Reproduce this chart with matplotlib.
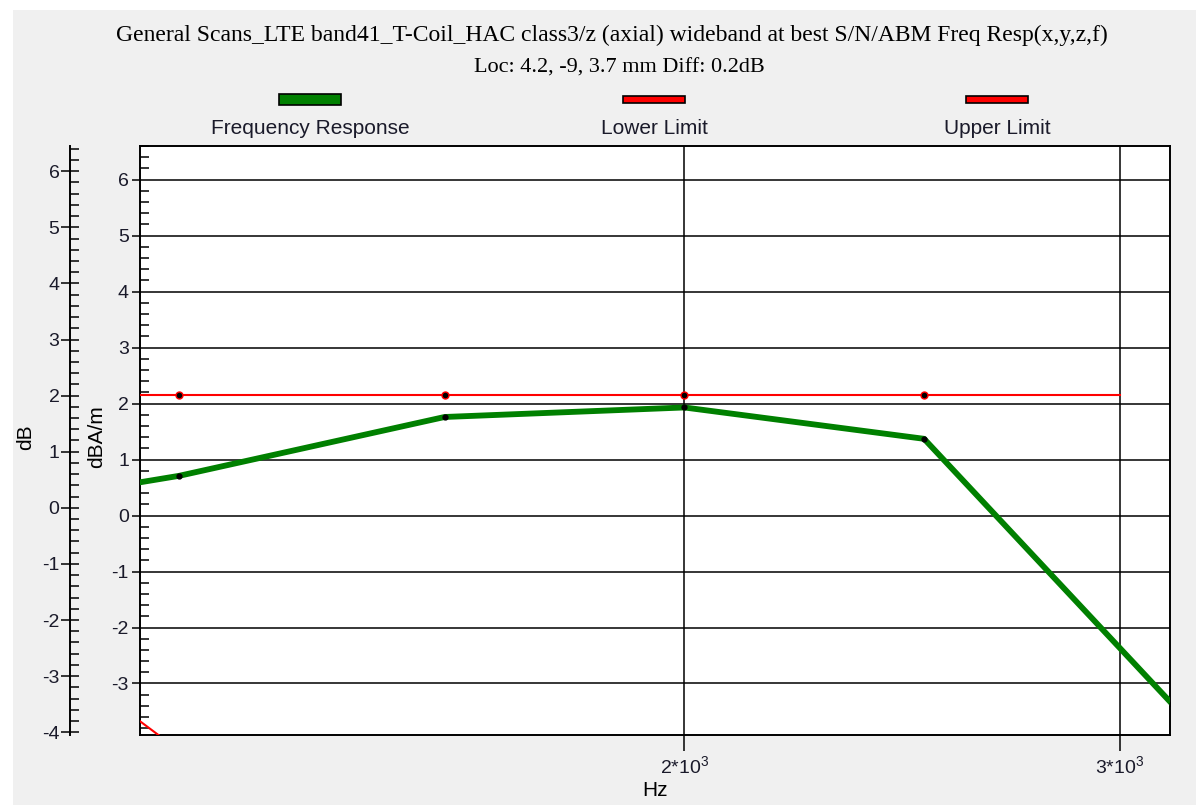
import matplotlib
matplotlib.use("Agg")
import matplotlib.pyplot as plt
from matplotlib.patches import Rectangle
from matplotlib.ticker import MultipleLocator, FixedLocator, NullLocator, FixedFormatter

plt.rcParams['font.family'] = ['Liberation Sans', 'DejaVu Sans']
plt.rcParams['mathtext.default'] = 'regular'
plt.rcParams['axes.unicode_minus'] = False

# data (dB relative to 1 kHz)
freq = [1000, 1250, 1600, 2000, 2500, 3150]
resp = [0.0, 0.71, 1.76, 1.93, 1.37, -3.37]

upper_freq = [1000, 1250, 1600, 2000, 2500, 3000]
upper_db = [2.15, 2.15, 2.15, 2.15, 2.15, 2.15]

lower_freq = [1000, 1250, 1600, 2000, 2500, 3000]
lower_db = [-1.0, -4.2, -4.2, -4.2, -4.2, -4.2]

series_names = ["Frequency Response", "Lower Limit", "Upper Limit"]
series_colors = ["#008000", "#ff0000", "#ff0000"]

xticks = [2000, 3000]
xticklabels = ["2*10$^3$", "3*10$^3$"]

title1 = "General Scans_LTE band41_T-Coil_HAC class3/z (axial) wideband at best S/N/ABM Freq Resp(x,y,z,f)"
title2 = "Loc: 4.2, -9, 3.7 mm Diff: 0.2dB"

W, H = 1196, 805
fig = plt.figure(figsize=(W / 100, H / 100), dpi=100)
fig.patch.set_facecolor("white")
fig.add_artist(Rectangle((13 / W, 0), 1 - 13 / W, 1 - 10 / H, transform=fig.transFigure,
                         facecolor="#f0f0f0", edgecolor="none", zorder=-10))

rect = [140 / W, 70 / H, 1030 / W, 589 / H]
ax = fig.add_axes(rect)
ax.set_facecolor("white")

# main plot (dBA/m)
ax.plot(upper_freq, upper_db, color=series_colors[2], lw=1.5, zorder=3,
        marker="o", markersize=5, markerfacecolor="black", markeredgecolor="red",
        markevery=[0, 1, 2, 3, 4])
ax.plot(lower_freq, lower_db, color=series_colors[1], lw=1.5, zorder=3,
        marker="o", markersize=5, markerfacecolor="black", markeredgecolor="red")
ax.plot(freq, resp, color=series_colors[0], lw=4.2, zorder=4,
        marker="o", markersize=3.5, markerfacecolor="black", markeredgecolor="black")

ax.set_xscale("log")
ax.set_xlim(1205, 3143)
ax.set_ylim(-3.92, 6.60)
ax.xaxis.set_major_locator(FixedLocator(xticks))
ax.xaxis.set_major_formatter(FixedFormatter(xticklabels))
ax.xaxis.set_minor_locator(NullLocator())
ax.yaxis.set_major_locator(MultipleLocator(1))
ax.yaxis.set_minor_locator(MultipleLocator(0.2))
ax.grid(True, which="major", color="black", lw=1.1, zorder=1)
ax.tick_params(axis="x", which="major", direction="out", length=11.5, width=1.1,
               labelsize=14, pad=3, colors="black", labelcolor="#1a1a2a")
ax.tick_params(axis="y", which="major", direction="out", length=6, width=1.1,
               labelsize=14, pad=2, labelcolor="#1a1a2a")
ax.tick_params(axis="y", which="minor", direction="in", length=6.5, width=1.1)
for s in ax.spines.values():
    s.set_linewidth(1.4)
    s.set_color("black")

# second (left) dB axis
ax2 = fig.add_axes(rect)
ax2.patch.set_visible(False)
ax2.set_ylim(-4.05, 6.45)
ax2.set_xticks([])
for k in ["top", "right", "bottom"]:
    ax2.spines[k].set_visible(False)
ax2.spines["left"].set_position(("outward", 50.4))
ax2.spines["left"].set_linewidth(1.4)
ax2.yaxis.set_major_locator(MultipleLocator(1))
ax2.yaxis.set_minor_locator(MultipleLocator(0.2))
ax2.tick_params(axis="y", which="major", direction="inout", length=13, width=1.1,
                labelsize=14, pad=1, labelcolor="#1a1a2a")
ax2.tick_params(axis="y", which="minor", direction="in", length=6.5, width=1.1)

# axis labels
fig.text(26 / W, 1 - 437 / H, "dB", rotation=90, ha="center", va="center", fontsize=15)
fig.text(97 / W, 1 - 437 / H, "dBA/m", rotation=90, ha="center", va="center", fontsize=15)
fig.text(655 / W, 1 - 790 / H, "Hz", ha="center", va="center", fontsize=15)

# titles
fig.text(612 / W, 1 - 35 / H, title1, ha="center", va="center", fontsize=17,
         family="Liberation Serif")
fig.text(619 / W, 1 - 68 / H, title2, ha="center", va="center", fontsize=16,
         family="Liberation Serif")

# legend above the plot
leg_x = [310, 654, 997]
leg_h = [11, 7, 7]
for name, c, x, h in zip(series_names, series_colors, leg_x, leg_h):
    fig.add_artist(Rectangle(((x - 31) / W, 1 - (100 + h / 2) / H), 62 / W, h / H,
                             transform=fig.transFigure, facecolor=c,
                             edgecolor="black", lw=1.2))
    fig.text(x / W, 1 - 128 / H, name, ha="center", va="center", fontsize=15,
             color="#1a1a2a")

fig.savefig("out.png", dpi=100)
